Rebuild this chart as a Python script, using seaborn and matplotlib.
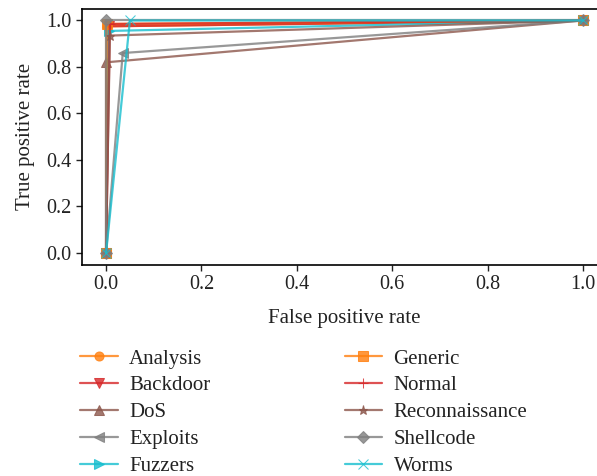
import matplotlib
matplotlib.use("Agg")
import matplotlib.pyplot as plt
import seaborn as sns
import pandas as pd

# ---- data ----
classes = ["Analysis", "Backdoor", "DoS", "Exploits", "Fuzzers",
           "Generic", "Normal", "Reconnaissance", "Shellcode", "Worms"]
fpr_mid = [0.002, 0.006, 0.0, 0.035, 0.006, 0.001, 0.008, 0.008, 0.0, 0.05]
tpr_mid = [0.975, 0.975, 0.82, 0.86, 0.955, 0.985, 0.985, 0.935, 1.0, 1.0]
start_point = (0.0, 0.0)
end_point = (1.0, 1.0)
x_ticks = [0.0, 0.2, 0.4, 0.6, 0.8, 1.0]
y_ticks = [0.0, 0.2, 0.4, 0.6, 0.8, 1.0]

colors = ["#ff7f0e", "#d62728", "#8c564b", "#7f7f7f", "#17becf",
          "#ff7f0e", "#d62728", "#8c564b", "#7f7f7f", "#17becf"]
markers = ["o", "v", "^", "<", ">", "s", "+", "*", "D", "x"]

rows = []
for c, fx, ty in zip(classes, fpr_mid, tpr_mid):
    rows.append((c, 0, start_point[0], start_point[1]))
    rows.append((c, 1, fx, ty))
    rows.append((c, 2, end_point[0], end_point[1]))
df = pd.DataFrame(rows, columns=["cls", "order", "fpr", "tpr"])

sns.set_theme(style="ticks")
plt.rcParams["font.family"] = ["Liberation Serif", "DejaVu Serif"]

fig = plt.figure(figsize=(5.97, 4.76), dpi=100)
ax = fig.add_axes([82.2 / 597, 0.4441, 524.7 / 597, 0.5373])

for c, col, mk in zip(classes, colors, markers):
    sub = df[df["cls"] == c]
    sns.lineplot(data=sub, x="fpr", y="tpr", sort=False, estimator=None,
                 color=col, marker=mk, markersize=6.5, linewidth=1.6,
                 alpha=0.8, label=c, ax=ax, markeredgecolor=col)

ax.set_xlim(-0.05, 1.05)
ax.set_ylim(-0.05, 1.05)
ax.set_xticks(x_ticks)
ax.set_yticks(y_ticks)
ax.set_xticklabels([f"{v:.1f}" for v in x_ticks])
ax.set_yticklabels([f"{v:.1f}" for v in y_ticks])
ax.tick_params(labelsize=14.5, colors="#222222", length=4, width=1)
ax.set_xlabel("False positive rate", fontsize=15, color="#222222", labelpad=11)
ax.set_ylabel("True positive rate", fontsize=15, color="#222222", labelpad=8)
for s in ax.spines.values():
    s.set_color("black")
    s.set_linewidth(1.2)

handles, labels = ax.get_legend_handles_labels()
ax.legend_.remove()
fig.legend(handles, labels, ncol=2, frameon=False, fontsize=15,
           loc="upper left", bbox_to_anchor=(80 / 597, 1 - 349 / 476),
           handlelength=1.8, handletextpad=0.55, columnspacing=6.45,
           labelspacing=0.35, borderpad=0, borderaxespad=0,
           labelcolor="#222222")

fig.savefig("out.png", dpi=100)
